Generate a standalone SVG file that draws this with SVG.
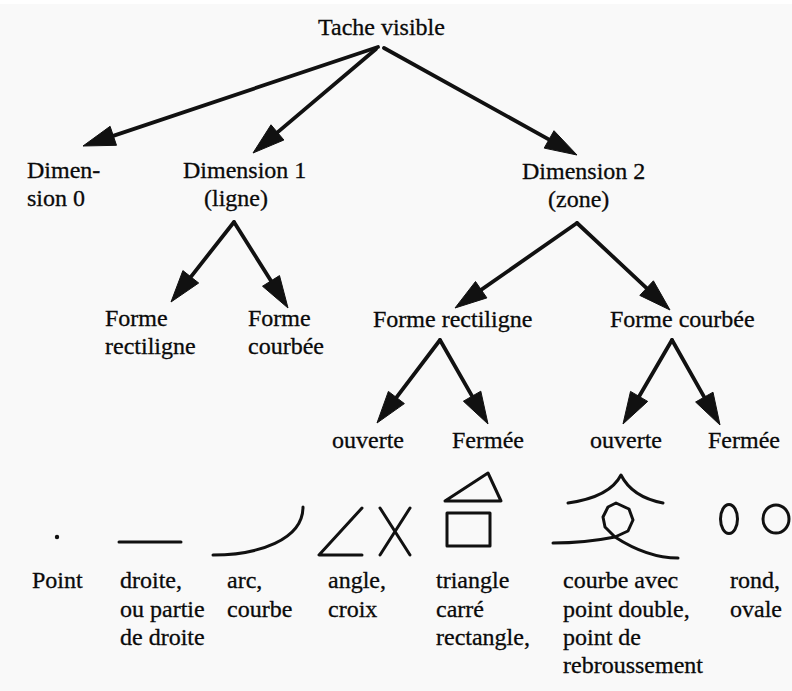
<svg xmlns="http://www.w3.org/2000/svg" width="792" height="691" viewBox="0 0 792 691">
<defs>
<style>
.t text{font-family:'Liberation Serif','Times New Roman','DejaVu Serif',serif;font-size:24px;fill:#0a0a0a;stroke:#0a0a0a;stroke-width:0.3}
.c line{stroke:#111;stroke-width:3.8;stroke-linecap:round}
.c polygon{fill:#111;stroke:#111;stroke-width:1;stroke-linejoin:miter}
.f{fill:none;stroke:#111;stroke-width:3;stroke-linecap:round;stroke-linejoin:round}
</style>
</defs>
<rect x="0" y="0" width="792" height="691" fill="#f9f9f9"/>
<rect x="0" y="0" width="792" height="4" fill="#ffffff"/>

<g id="connectors" class="c">
<line x1="378" y1="47" x2="102" y2="139.6"/>
<polygon points="83,146 110.1,126.3 116.5,145.3"/>
<line x1="376" y1="49" x2="268.3" y2="140.1"/>
<polygon points="253,153 271,124.8 283.9,140"/>
<line x1="384" y1="48" x2="559.5" y2="145.3"/>
<polygon points="577,155 544.2,148.1 554,130.7"/>
<line x1="234" y1="222" x2="183.4" y2="286.3"/>
<polygon points="171,302 182.9,270.6 198.7,283"/>
<line x1="234" y1="222" x2="277.4" y2="291.1"/>
<polygon points="288,308 262.5,286.2 279.5,275.6"/>
<line x1="577" y1="223" x2="471.4" y2="296.6"/>
<polygon points="455,308 475.5,281.5 486.9,297.9"/>
<line x1="577" y1="223" x2="655.4" y2="296.3"/>
<polygon points="670,310 639.8,295.4 653.4,280.8"/>
<line x1="440" y1="340" x2="389.1" y2="407.1"/>
<polygon points="377,423 388.4,391.4 404.4,403.6"/>
<line x1="440" y1="340" x2="478.1" y2="406.6"/>
<polygon points="488,424 463.4,401.2 480.8,391.2"/>
<line x1="672" y1="340" x2="633.1" y2="406.7"/>
<polygon points="623,424 630.5,391.4 647.7,401.4"/>
<line x1="672" y1="340" x2="710.2" y2="407.6"/>
<polygon points="720,425 695.6,402 713,392.2"/>
</g>

<g class="t" font-family="'Liberation Serif', serif">
<g id="n-tache"><text x="318" y="35">Tache visible</text></g>
<g id="n-dim0"><text x="27" y="178">Dimen-</text><text x="27" y="206">sion 0</text></g>
<g id="n-dim1"><text x="183" y="178">Dimension 1</text><text x="204" y="206">(ligne)</text></g>
<g id="n-dim2"><text x="522" y="179">Dimension 2</text><text x="548" y="207">(zone)</text></g>
<g id="n-d1-rect"><text x="105" y="326">Forme</text><text x="105" y="354">rectiligne</text></g>
<g id="n-d1-courb"><text x="248" y="326">Forme</text><text x="248" y="354">courbée</text></g>
<g id="n-d2-rect"><text x="373" y="327">Forme rectiligne</text></g>
<g id="n-d2-courb"><text x="610" y="327">Forme courbée</text></g>
<g id="n-r-ouv"><text x="332" y="448">ouverte</text></g>
<g id="n-r-ferm"><text x="452" y="448">Fermée</text></g>
<g id="n-c-ouv"><text x="590" y="448">ouverte</text></g>
<g id="n-c-ferm"><text x="708" y="448">Fermée</text></g>

<g id="ex-point">
<circle cx="57" cy="537" r="2.2" fill="#111"/>
<text x="32" y="588">Point</text>
</g>
<g id="ex-droite">
<line class="f" x1="119" y1="542" x2="181" y2="542"/>
<text x="120" y="588">droite,</text><text x="120" y="617">ou partie</text><text x="120" y="645">de droite</text>
</g>
<g id="ex-arc">
<path class="f" d="M213,555 C258,555 303,540 303,507"/>
<text x="227" y="588">arc,</text><text x="227" y="617">courbe</text>
</g>
<g id="ex-angle">
<path class="f" d="M362,508 L319,555 L362,555"/>
<path class="f" d="M380,508 L410,555 M410,508 L380,555"/>
<text x="328" y="588">angle,</text><text x="328" y="617">croix</text>
</g>
<g id="ex-ferme-rect">
<path class="f" d="M445,501 L488,473 L501,501 Z"/>
<rect class="f" x="447" y="513" width="43" height="33"/>
<text x="436" y="588">triangle</text><text x="436" y="617">carré</text><text x="436" y="645">rectangle,</text>
</g>
<g id="ex-ouvert-courbe">
<path class="f" d="M568,503 Q610,497 621,475 Q632,497 663,503"/>
<path class="f" d="M553,543 C575,543 595,541 615,537 L628,531 L633,520 L629,509 L616,503 L608,507 L603,517 L605,527 L615,537 C635,550 655,558 678,558"/>
<text x="563" y="588">courbe avec</text><text x="563" y="617">point double,</text><text x="563" y="645">point de</text><text x="563" y="673">rebroussement</text>
</g>
<g id="ex-ferme-courbe">
<ellipse class="f" cx="729" cy="519" rx="8.5" ry="14.5"/>
<ellipse class="f" cx="776" cy="519" rx="13" ry="14"/>
<text x="730" y="588">rond,</text><text x="730" y="617">ovale</text>
</g>
</g>
</svg>
